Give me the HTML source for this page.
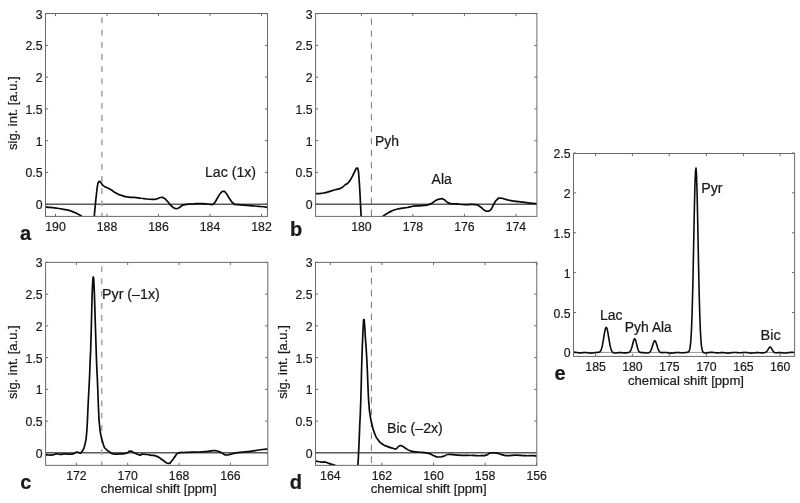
<!DOCTYPE html>
<html><head><meta charset="utf-8"><title>Figure</title>
<style>html,body{margin:0;padding:0;background:#fff}svg{display:block}text{font-family:"Liberation Sans",Arial,Helvetica,sans-serif}</style>
</head><body>
<svg width="800" height="503" viewBox="0 0 800 503">
<rect width="800" height="503" fill="#fff"/>
<clipPath id="ca"><rect x="45.50" y="13.50" width="222.00" height="202.90"/></clipPath>
<path d="M55.50,216.40v-2.60 M55.50,13.50v2.60 M107.00,216.40v-2.60 M107.00,13.50v2.60 M158.50,216.40v-2.60 M158.50,13.50v2.60 M210.00,216.40v-2.60 M210.00,13.50v2.60 M261.50,216.40v-2.60 M261.50,13.50v2.60 M45.50,204.15h2.60 M267.50,204.15h-2.60 M45.50,172.40h2.60 M267.50,172.40h-2.60 M45.50,140.65h2.60 M267.50,140.65h-2.60 M45.50,108.90h2.60 M267.50,108.90h-2.60 M45.50,77.15h2.60 M267.50,77.15h-2.60 M45.50,45.40h2.60 M267.50,45.40h-2.60 M45.50,13.65h2.60 M267.50,13.65h-2.60 " stroke="#3a3a3a" stroke-width="0.75" fill="none"/>
<text x="55.50" y="231.10" font-size="13.6" text-anchor="middle" textLength="20.49" lengthAdjust="spacingAndGlyphs" fill="#1a1a1a" stroke="#1a1a1a" stroke-width="0.22">190</text>
<text x="107.00" y="231.10" font-size="13.6" text-anchor="middle" textLength="20.49" lengthAdjust="spacingAndGlyphs" fill="#1a1a1a" stroke="#1a1a1a" stroke-width="0.22">188</text>
<text x="158.50" y="231.10" font-size="13.6" text-anchor="middle" textLength="20.49" lengthAdjust="spacingAndGlyphs" fill="#1a1a1a" stroke="#1a1a1a" stroke-width="0.22">186</text>
<text x="210.00" y="231.10" font-size="13.6" text-anchor="middle" textLength="20.49" lengthAdjust="spacingAndGlyphs" fill="#1a1a1a" stroke="#1a1a1a" stroke-width="0.22">184</text>
<text x="261.50" y="231.10" font-size="13.6" text-anchor="middle" textLength="20.49" lengthAdjust="spacingAndGlyphs" fill="#1a1a1a" stroke="#1a1a1a" stroke-width="0.22">182</text>
<text x="42.60" y="209.15" font-size="13.6" text-anchor="end" textLength="6.83" lengthAdjust="spacingAndGlyphs" fill="#1a1a1a" stroke="#1a1a1a" stroke-width="0.22">0</text>
<text x="42.60" y="177.40" font-size="13.6" text-anchor="end" textLength="17.08" lengthAdjust="spacingAndGlyphs" fill="#1a1a1a" stroke="#1a1a1a" stroke-width="0.22">0.5</text>
<text x="42.60" y="145.65" font-size="13.6" text-anchor="end" textLength="6.83" lengthAdjust="spacingAndGlyphs" fill="#1a1a1a" stroke="#1a1a1a" stroke-width="0.22">1</text>
<text x="42.60" y="113.90" font-size="13.6" text-anchor="end" textLength="17.08" lengthAdjust="spacingAndGlyphs" fill="#1a1a1a" stroke="#1a1a1a" stroke-width="0.22">1.5</text>
<text x="42.60" y="82.15" font-size="13.6" text-anchor="end" textLength="6.83" lengthAdjust="spacingAndGlyphs" fill="#1a1a1a" stroke="#1a1a1a" stroke-width="0.22">2</text>
<text x="42.60" y="50.40" font-size="13.6" text-anchor="end" textLength="17.08" lengthAdjust="spacingAndGlyphs" fill="#1a1a1a" stroke="#1a1a1a" stroke-width="0.22">2.5</text>
<text x="42.60" y="18.65" font-size="13.6" text-anchor="end" textLength="6.83" lengthAdjust="spacingAndGlyphs" fill="#1a1a1a" stroke="#1a1a1a" stroke-width="0.22">3</text>
<line x1="45.50" y1="204.15" x2="267.50" y2="204.15" stroke="#5a5a5a" stroke-width="1.5"/>
<line x1="101.9" y1="17.5" x2="101.9" y2="216.40" stroke="#a8a8a8" stroke-width="1.6" stroke-dasharray="5.8 6.4"/>
<path d="M45.80,207.00 C46.17,207.03 43.40,206.73 46.90,207.10 C50.40,207.47 50.23,207.27 56.30,208.10 C62.37,208.93 60.10,208.60 65.10,209.60 C70.10,210.60 67.13,209.63 71.30,211.10 C75.47,212.57 74.23,212.33 77.60,214.00 C80.97,215.67 79.27,214.60 81.40,216.10 C83.53,217.60 83.13,217.70 84.00,218.50" fill="none" stroke="#0a0a0a" stroke-width="1.7" stroke-linejoin="round" stroke-linecap="butt" clip-path="url(#ca)"/>
<path d="M94.00,220.00 C94.10,218.70 93.93,220.40 94.30,216.10 C94.67,211.80 94.40,214.27 95.10,207.10 C95.80,199.93 95.57,201.90 96.40,194.60 C97.23,187.30 96.87,189.33 97.60,185.20 C98.33,181.07 97.97,183.47 98.60,182.20 C99.23,180.93 98.90,181.47 99.50,181.40 C100.10,181.33 99.77,181.37 100.40,182.00 C101.03,182.63 100.23,181.93 101.40,183.30 C102.57,184.67 100.97,184.10 103.90,186.10 C106.83,188.10 106.03,186.90 110.20,189.30 C114.37,191.70 112.23,191.13 116.40,193.30 C120.57,195.47 118.50,194.53 122.70,195.80 C126.90,197.07 125.23,196.57 129.00,197.10 C132.77,197.63 130.33,197.07 134.00,197.40 C137.67,197.73 136.73,197.67 140.00,198.10 C143.27,198.53 139.60,198.27 143.80,198.70 C148.00,199.13 148.43,199.30 152.60,199.40 C156.77,199.50 153.60,199.63 156.30,199.00 C159.00,198.37 158.20,197.80 160.70,197.50 C163.20,197.20 161.50,196.77 163.80,198.10 C166.10,199.43 165.07,198.90 167.60,201.50 C170.13,204.10 168.70,203.53 171.40,205.90 C174.10,208.27 173.00,208.10 175.70,208.60 C178.40,209.10 176.77,208.63 179.50,207.40 C182.23,206.17 179.50,206.03 183.90,204.90 C188.30,203.77 186.43,204.43 192.70,204.00 C198.97,203.57 196.87,203.50 202.70,203.60 C208.53,203.70 206.43,204.37 210.20,204.30 C213.97,204.23 211.53,205.60 214.00,203.40 C216.47,201.20 215.33,201.17 217.60,197.70 C219.87,194.23 218.87,195.10 220.80,193.00 C222.73,190.90 221.63,191.30 223.40,191.40 C225.17,191.50 223.87,190.63 226.10,193.30 C228.33,195.97 227.53,195.97 230.10,199.40 C232.67,202.83 231.30,201.87 233.80,203.60 C236.30,205.33 232.17,203.93 237.60,204.60 C243.03,205.27 242.57,204.97 250.10,205.60 C257.63,206.23 254.33,205.90 260.20,206.50 C266.07,207.10 265.20,207.10 267.70,207.40" fill="none" stroke="#0a0a0a" stroke-width="1.7" stroke-linejoin="round" stroke-linecap="butt" clip-path="url(#ca)"/>
<rect x="45.50" y="13.50" width="222.00" height="202.90" fill="none" stroke="#6a6a6a" stroke-width="1"/>
<text x="205.00" y="177.20" font-size="14" textLength="51.00" lengthAdjust="spacingAndGlyphs" fill="#1a1a1a" stroke="#1a1a1a" stroke-width="0.22">Lac (1x)</text>
<text x="17.00" y="113.20" font-size="13.4" text-anchor="middle" textLength="73.60" lengthAdjust="spacingAndGlyphs" transform="rotate(-90 17.00 113.20)" fill="#1a1a1a" stroke="#1a1a1a" stroke-width="0.22">sig. int. [a.u.]</text>
<text x="20.00" y="239.90" font-size="20" font-weight="bold" fill="#1a1a1a" stroke="#1a1a1a" stroke-width="0.22">a</text>
<clipPath id="cb"><rect x="315.60" y="13.50" width="221.30" height="202.90"/></clipPath>
<path d="M361.40,216.40v-2.60 M361.40,13.50v2.60 M412.90,216.40v-2.60 M412.90,13.50v2.60 M464.40,216.40v-2.60 M464.40,13.50v2.60 M515.90,216.40v-2.60 M515.90,13.50v2.60 M315.60,204.15h2.60 M536.90,204.15h-2.60 M315.60,172.40h2.60 M536.90,172.40h-2.60 M315.60,140.65h2.60 M536.90,140.65h-2.60 M315.60,108.90h2.60 M536.90,108.90h-2.60 M315.60,77.15h2.60 M536.90,77.15h-2.60 M315.60,45.40h2.60 M536.90,45.40h-2.60 M315.60,13.65h2.60 M536.90,13.65h-2.60 " stroke="#3a3a3a" stroke-width="0.75" fill="none"/>
<text x="361.40" y="231.10" font-size="13.6" text-anchor="middle" textLength="20.49" lengthAdjust="spacingAndGlyphs" fill="#1a1a1a" stroke="#1a1a1a" stroke-width="0.22">180</text>
<text x="412.90" y="231.10" font-size="13.6" text-anchor="middle" textLength="20.49" lengthAdjust="spacingAndGlyphs" fill="#1a1a1a" stroke="#1a1a1a" stroke-width="0.22">178</text>
<text x="464.40" y="231.10" font-size="13.6" text-anchor="middle" textLength="20.49" lengthAdjust="spacingAndGlyphs" fill="#1a1a1a" stroke="#1a1a1a" stroke-width="0.22">176</text>
<text x="515.90" y="231.10" font-size="13.6" text-anchor="middle" textLength="20.49" lengthAdjust="spacingAndGlyphs" fill="#1a1a1a" stroke="#1a1a1a" stroke-width="0.22">174</text>
<text x="312.70" y="209.15" font-size="13.6" text-anchor="end" textLength="6.83" lengthAdjust="spacingAndGlyphs" fill="#1a1a1a" stroke="#1a1a1a" stroke-width="0.22">0</text>
<text x="312.70" y="177.40" font-size="13.6" text-anchor="end" textLength="17.08" lengthAdjust="spacingAndGlyphs" fill="#1a1a1a" stroke="#1a1a1a" stroke-width="0.22">0.5</text>
<text x="312.70" y="145.65" font-size="13.6" text-anchor="end" textLength="6.83" lengthAdjust="spacingAndGlyphs" fill="#1a1a1a" stroke="#1a1a1a" stroke-width="0.22">1</text>
<text x="312.70" y="113.90" font-size="13.6" text-anchor="end" textLength="17.08" lengthAdjust="spacingAndGlyphs" fill="#1a1a1a" stroke="#1a1a1a" stroke-width="0.22">1.5</text>
<text x="312.70" y="82.15" font-size="13.6" text-anchor="end" textLength="6.83" lengthAdjust="spacingAndGlyphs" fill="#1a1a1a" stroke="#1a1a1a" stroke-width="0.22">2</text>
<text x="312.70" y="50.40" font-size="13.6" text-anchor="end" textLength="17.08" lengthAdjust="spacingAndGlyphs" fill="#1a1a1a" stroke="#1a1a1a" stroke-width="0.22">2.5</text>
<text x="312.70" y="18.65" font-size="13.6" text-anchor="end" textLength="6.83" lengthAdjust="spacingAndGlyphs" fill="#1a1a1a" stroke="#1a1a1a" stroke-width="0.22">3</text>
<line x1="315.60" y1="204.15" x2="536.90" y2="204.15" stroke="#5a5a5a" stroke-width="1.5"/>
<line x1="371.4" y1="18.5" x2="371.4" y2="216.40" stroke="#666" stroke-width="0.9" stroke-dasharray="6.3 5.65"/>
<path d="M315.80,193.80 C316.17,193.77 315.07,193.87 316.90,193.70 C318.73,193.53 317.77,193.83 321.30,193.30 C324.83,192.77 322.90,193.27 327.50,192.10 C332.10,190.93 330.70,191.07 335.10,189.80 C339.50,188.53 337.37,189.97 340.70,188.30 C344.03,186.63 342.40,186.87 345.10,184.80 C347.80,182.73 346.30,185.10 348.80,182.10 C351.30,179.10 350.30,180.00 352.60,175.80 C354.90,171.60 354.23,171.93 355.70,169.50 C357.17,167.07 356.17,168.27 357.00,168.50 C357.83,168.73 357.50,166.50 358.20,170.20 C358.90,173.90 358.53,172.30 359.10,179.60 C359.67,186.90 359.43,183.97 359.90,192.10 C360.37,200.23 360.10,196.00 360.50,204.00 C360.90,212.00 360.83,210.77 361.10,216.10 C361.37,221.43 361.23,218.70 361.30,220.00" fill="none" stroke="#0a0a0a" stroke-width="1.7" stroke-linejoin="round" stroke-linecap="butt" clip-path="url(#cb)"/>
<path d="M380.00,218.50 C381.10,217.70 381.17,217.60 383.30,216.10 C385.43,214.60 383.67,215.67 386.40,214.00 C389.13,212.33 387.73,212.77 391.50,211.10 C395.27,209.43 393.97,210.00 397.70,209.00 C401.43,208.00 399.43,208.60 402.70,208.10 C405.97,207.60 403.80,208.17 407.50,207.50 C411.20,206.83 409.20,206.73 413.80,206.10 C418.40,205.47 416.10,206.17 421.30,205.60 C426.50,205.03 424.80,205.97 429.40,204.40 C434.00,202.83 431.53,202.70 435.10,200.90 C438.67,199.10 437.17,199.43 440.10,199.00 C443.03,198.57 440.97,198.23 443.90,199.60 C446.83,200.97 444.73,201.67 448.90,203.10 C453.07,204.53 450.97,203.40 456.40,203.90 C461.83,204.40 458.93,204.37 465.20,204.60 C471.47,204.83 470.20,203.87 475.20,204.60 C480.20,205.33 477.10,204.90 480.20,206.80 C483.30,208.70 482.03,208.87 484.50,210.30 C486.97,211.73 485.50,211.33 487.60,211.10 C489.70,210.87 488.70,211.97 490.80,209.60 C492.90,207.23 491.83,207.33 493.90,204.00 C495.97,200.67 494.80,201.57 497.00,199.60 C499.20,197.63 497.40,198.10 500.50,198.10 C503.60,198.10 501.83,198.60 506.30,199.60 C510.77,200.60 508.47,200.27 513.90,201.10 C519.33,201.93 517.17,201.43 522.60,202.10 C528.03,202.77 525.43,202.60 530.20,203.10 C534.97,203.60 534.67,203.43 536.90,203.60" fill="none" stroke="#0a0a0a" stroke-width="1.7" stroke-linejoin="round" stroke-linecap="butt" clip-path="url(#cb)"/>
<rect x="315.60" y="13.50" width="221.30" height="202.90" fill="none" stroke="#6a6a6a" stroke-width="1"/>
<text x="374.90" y="145.50" font-size="14" textLength="24.00" lengthAdjust="spacingAndGlyphs" fill="#1a1a1a" stroke="#1a1a1a" stroke-width="0.22">Pyh</text>
<text x="431.60" y="183.70" font-size="14" textLength="20.20" lengthAdjust="spacingAndGlyphs" fill="#1a1a1a" stroke="#1a1a1a" stroke-width="0.22">Ala</text>
<text x="290.00" y="236.30" font-size="20" font-weight="bold" fill="#1a1a1a" stroke="#1a1a1a" stroke-width="0.22">b</text>
<clipPath id="cc"><rect x="45.60" y="262.40" width="222.20" height="202.95"/></clipPath>
<path d="M76.40,465.35v-2.60 M76.40,262.40v2.60 M127.70,465.35v-2.60 M127.70,262.40v2.60 M179.10,465.35v-2.60 M179.10,262.40v2.60 M230.40,465.35v-2.60 M230.40,262.40v2.60 M45.60,452.85h2.60 M267.80,452.85h-2.60 M45.60,421.10h2.60 M267.80,421.10h-2.60 M45.60,389.35h2.60 M267.80,389.35h-2.60 M45.60,357.60h2.60 M267.80,357.60h-2.60 M45.60,325.85h2.60 M267.80,325.85h-2.60 M45.60,294.10h2.60 M267.80,294.10h-2.60 M45.60,262.35h2.60 M267.80,262.35h-2.60 " stroke="#3a3a3a" stroke-width="0.75" fill="none"/>
<text x="76.40" y="479.65" font-size="13.6" text-anchor="middle" textLength="20.49" lengthAdjust="spacingAndGlyphs" fill="#1a1a1a" stroke="#1a1a1a" stroke-width="0.22">172</text>
<text x="127.70" y="479.65" font-size="13.6" text-anchor="middle" textLength="20.49" lengthAdjust="spacingAndGlyphs" fill="#1a1a1a" stroke="#1a1a1a" stroke-width="0.22">170</text>
<text x="179.10" y="479.65" font-size="13.6" text-anchor="middle" textLength="20.49" lengthAdjust="spacingAndGlyphs" fill="#1a1a1a" stroke="#1a1a1a" stroke-width="0.22">168</text>
<text x="230.40" y="479.65" font-size="13.6" text-anchor="middle" textLength="20.49" lengthAdjust="spacingAndGlyphs" fill="#1a1a1a" stroke="#1a1a1a" stroke-width="0.22">166</text>
<text x="42.70" y="457.85" font-size="13.6" text-anchor="end" textLength="6.83" lengthAdjust="spacingAndGlyphs" fill="#1a1a1a" stroke="#1a1a1a" stroke-width="0.22">0</text>
<text x="42.70" y="426.10" font-size="13.6" text-anchor="end" textLength="17.08" lengthAdjust="spacingAndGlyphs" fill="#1a1a1a" stroke="#1a1a1a" stroke-width="0.22">0.5</text>
<text x="42.70" y="394.35" font-size="13.6" text-anchor="end" textLength="6.83" lengthAdjust="spacingAndGlyphs" fill="#1a1a1a" stroke="#1a1a1a" stroke-width="0.22">1</text>
<text x="42.70" y="362.60" font-size="13.6" text-anchor="end" textLength="17.08" lengthAdjust="spacingAndGlyphs" fill="#1a1a1a" stroke="#1a1a1a" stroke-width="0.22">1.5</text>
<text x="42.70" y="330.85" font-size="13.6" text-anchor="end" textLength="6.83" lengthAdjust="spacingAndGlyphs" fill="#1a1a1a" stroke="#1a1a1a" stroke-width="0.22">2</text>
<text x="42.70" y="299.10" font-size="13.6" text-anchor="end" textLength="17.08" lengthAdjust="spacingAndGlyphs" fill="#1a1a1a" stroke="#1a1a1a" stroke-width="0.22">2.5</text>
<text x="42.70" y="267.35" font-size="13.6" text-anchor="end" textLength="6.83" lengthAdjust="spacingAndGlyphs" fill="#1a1a1a" stroke="#1a1a1a" stroke-width="0.22">3</text>
<line x1="45.60" y1="452.85" x2="267.80" y2="452.85" stroke="#5a5a5a" stroke-width="1.5"/>
<line x1="101.7" y1="266.3" x2="101.7" y2="465.35" stroke="#a8a8a8" stroke-width="1.6" stroke-dasharray="5.8 6.4"/>
<path d="M45.80,455.00 C46.17,454.97 44.67,454.93 46.90,454.90 C49.13,454.87 49.37,455.23 52.50,454.90 C55.63,454.57 53.80,454.10 56.30,453.90 C58.80,453.70 57.10,454.30 60.00,454.30 C62.90,454.30 62.00,453.93 65.00,453.90 C68.00,453.87 66.07,454.30 69.00,454.20 C71.93,454.10 71.13,454.33 73.80,453.60 C76.47,452.87 74.90,452.13 77.00,452.00 C79.10,451.87 78.60,453.20 80.10,453.20 C81.60,453.20 80.53,453.07 81.50,452.00 C82.47,450.93 82.07,451.73 83.00,450.00 C83.93,448.27 83.47,449.47 84.30,446.80 C85.13,444.13 84.80,445.70 85.50,442.00 C86.20,438.30 85.83,441.37 86.40,435.70 C86.97,430.03 86.73,432.97 87.20,425.00 C87.67,417.03 87.33,421.80 87.80,411.80 C88.27,401.80 88.07,405.60 88.60,395.00 C89.13,384.40 88.87,391.67 89.40,380.00 C89.93,368.33 89.73,371.67 90.20,360.00 C90.67,348.33 90.37,358.33 90.80,345.00 C91.23,331.67 91.10,335.00 91.50,320.00 C91.90,305.00 91.63,311.67 92.00,300.00 C92.37,288.33 92.17,292.73 92.60,285.00 C93.03,277.27 92.83,276.80 93.30,276.80 C93.77,276.80 93.57,277.27 94.00,285.00 C94.43,292.73 94.20,288.33 94.60,300.00 C95.00,311.67 94.73,305.00 95.20,320.00 C95.67,335.00 95.50,330.00 96.00,345.00 C96.50,360.00 96.23,353.33 96.70,365.00 C97.17,376.67 96.93,369.00 97.40,380.00 C97.87,391.00 97.68,387.40 98.10,398.00 C98.52,408.60 98.18,402.80 98.65,411.80 C99.12,420.80 98.72,417.03 99.50,425.00 C100.28,432.97 100.00,430.20 101.00,435.70 C102.00,441.20 101.43,437.80 102.50,441.50 C103.57,445.20 102.90,444.13 104.20,446.80 C105.50,449.47 104.53,447.77 106.40,449.50 C108.27,451.23 107.50,450.53 109.80,452.00 C112.10,453.47 109.83,453.27 113.30,453.90 C116.77,454.53 115.80,454.13 120.20,453.90 C124.60,453.67 123.17,454.13 126.50,453.20 C129.83,452.27 127.37,451.10 130.20,451.10 C133.03,451.10 131.73,451.87 135.00,453.20 C138.27,454.53 137.50,454.80 140.00,455.10 C142.50,455.40 139.13,454.10 142.50,454.10 C145.87,454.10 145.30,454.33 150.10,455.10 C154.90,455.87 152.73,454.73 156.90,456.40 C161.07,458.07 158.83,457.80 162.60,460.10 C166.37,462.40 165.27,462.87 168.20,463.30 C171.13,463.73 169.10,463.70 171.40,461.40 C173.70,459.10 172.83,459.13 175.10,456.40 C177.37,453.67 174.43,454.53 178.20,453.20 C181.97,451.87 179.50,452.80 186.40,452.40 C193.30,452.00 191.83,452.33 198.90,452.00 C205.97,451.67 202.60,451.83 207.60,451.40 C212.60,450.97 210.13,450.63 213.90,450.70 C217.67,450.77 215.87,450.60 218.90,451.60 C221.93,452.60 220.50,452.57 223.00,453.70 C225.50,454.83 223.63,454.87 226.40,455.00 C229.17,455.13 227.57,454.90 231.30,454.10 C235.03,453.30 232.17,453.40 237.60,452.60 C243.03,451.80 241.77,452.33 247.60,451.70 C253.43,451.07 250.07,451.43 255.10,450.70 C260.13,449.97 258.50,450.00 262.70,449.50 C266.90,449.00 266.03,449.30 267.70,449.20" fill="none" stroke="#0a0a0a" stroke-width="1.7" stroke-linejoin="round" stroke-linecap="butt" clip-path="url(#cc)"/>
<rect x="45.60" y="262.40" width="222.20" height="202.95" fill="none" stroke="#6a6a6a" stroke-width="1"/>
<text x="102.00" y="298.80" font-size="14" textLength="57.80" lengthAdjust="spacingAndGlyphs" fill="#1a1a1a" stroke="#1a1a1a" stroke-width="0.22">Pyr (–1x)</text>
<text x="17.00" y="362.20" font-size="13.4" text-anchor="middle" textLength="73.60" lengthAdjust="spacingAndGlyphs" transform="rotate(-90 17.00 362.20)" fill="#1a1a1a" stroke="#1a1a1a" stroke-width="0.22">sig. int. [a.u.]</text>
<text x="158.65" y="493.40" font-size="13.4" text-anchor="middle" textLength="116.00" lengthAdjust="spacingAndGlyphs" fill="#1a1a1a" stroke="#1a1a1a" stroke-width="0.22">chemical shift [ppm]</text>
<text x="20.30" y="488.90" font-size="20" font-weight="bold" fill="#1a1a1a" stroke="#1a1a1a" stroke-width="0.22">c</text>
<clipPath id="cd"><rect x="315.50" y="262.40" width="221.30" height="202.95"/></clipPath>
<path d="M330.30,465.35v-2.60 M330.30,262.40v2.60 M381.90,465.35v-2.60 M381.90,262.40v2.60 M433.50,465.35v-2.60 M433.50,262.40v2.60 M485.10,465.35v-2.60 M485.10,262.40v2.60 M536.70,465.35v-2.60 M536.70,262.40v2.60 M315.50,452.85h2.60 M536.80,452.85h-2.60 M315.50,421.10h2.60 M536.80,421.10h-2.60 M315.50,389.35h2.60 M536.80,389.35h-2.60 M315.50,357.60h2.60 M536.80,357.60h-2.60 M315.50,325.85h2.60 M536.80,325.85h-2.60 M315.50,294.10h2.60 M536.80,294.10h-2.60 M315.50,262.35h2.60 M536.80,262.35h-2.60 " stroke="#3a3a3a" stroke-width="0.75" fill="none"/>
<text x="330.30" y="479.65" font-size="13.6" text-anchor="middle" textLength="20.49" lengthAdjust="spacingAndGlyphs" fill="#1a1a1a" stroke="#1a1a1a" stroke-width="0.22">164</text>
<text x="381.90" y="479.65" font-size="13.6" text-anchor="middle" textLength="20.49" lengthAdjust="spacingAndGlyphs" fill="#1a1a1a" stroke="#1a1a1a" stroke-width="0.22">162</text>
<text x="433.50" y="479.65" font-size="13.6" text-anchor="middle" textLength="20.49" lengthAdjust="spacingAndGlyphs" fill="#1a1a1a" stroke="#1a1a1a" stroke-width="0.22">160</text>
<text x="485.10" y="479.65" font-size="13.6" text-anchor="middle" textLength="20.49" lengthAdjust="spacingAndGlyphs" fill="#1a1a1a" stroke="#1a1a1a" stroke-width="0.22">158</text>
<text x="536.70" y="479.65" font-size="13.6" text-anchor="middle" textLength="20.49" lengthAdjust="spacingAndGlyphs" fill="#1a1a1a" stroke="#1a1a1a" stroke-width="0.22">156</text>
<text x="312.60" y="457.85" font-size="13.6" text-anchor="end" textLength="6.83" lengthAdjust="spacingAndGlyphs" fill="#1a1a1a" stroke="#1a1a1a" stroke-width="0.22">0</text>
<text x="312.60" y="426.10" font-size="13.6" text-anchor="end" textLength="17.08" lengthAdjust="spacingAndGlyphs" fill="#1a1a1a" stroke="#1a1a1a" stroke-width="0.22">0.5</text>
<text x="312.60" y="394.35" font-size="13.6" text-anchor="end" textLength="6.83" lengthAdjust="spacingAndGlyphs" fill="#1a1a1a" stroke="#1a1a1a" stroke-width="0.22">1</text>
<text x="312.60" y="362.60" font-size="13.6" text-anchor="end" textLength="17.08" lengthAdjust="spacingAndGlyphs" fill="#1a1a1a" stroke="#1a1a1a" stroke-width="0.22">1.5</text>
<text x="312.60" y="330.85" font-size="13.6" text-anchor="end" textLength="6.83" lengthAdjust="spacingAndGlyphs" fill="#1a1a1a" stroke="#1a1a1a" stroke-width="0.22">2</text>
<text x="312.60" y="299.10" font-size="13.6" text-anchor="end" textLength="17.08" lengthAdjust="spacingAndGlyphs" fill="#1a1a1a" stroke="#1a1a1a" stroke-width="0.22">2.5</text>
<text x="312.60" y="267.35" font-size="13.6" text-anchor="end" textLength="6.83" lengthAdjust="spacingAndGlyphs" fill="#1a1a1a" stroke="#1a1a1a" stroke-width="0.22">3</text>
<line x1="315.50" y1="452.85" x2="536.80" y2="452.85" stroke="#5a5a5a" stroke-width="1.5"/>
<line x1="371.4" y1="266.0" x2="371.4" y2="465.35" stroke="#666" stroke-width="0.9" stroke-dasharray="6.5 5.4"/>
<path d="M315.80,461.00 C316.03,461.07 314.57,460.83 316.50,461.20 C318.43,461.57 318.70,461.80 321.60,462.10 C324.50,462.40 322.30,461.50 325.20,462.10 C328.10,462.70 327.13,462.83 330.30,463.90 C333.47,464.97 332.47,464.43 334.70,465.30 C336.93,466.17 336.23,466.10 337.00,466.50" fill="none" stroke="#0a0a0a" stroke-width="1.7" stroke-linejoin="round" stroke-linecap="butt" clip-path="url(#cd)"/>
<path d="M357.70,470.00 C357.77,468.43 357.60,471.13 357.90,465.30 C358.20,459.47 358.03,464.60 358.60,452.50 C359.17,440.40 358.87,446.50 359.60,429.00 C360.33,411.50 360.10,421.13 360.80,400.00 C361.50,378.87 361.10,385.60 361.70,365.60 C362.30,345.60 362.07,353.53 362.60,340.00 C363.13,326.47 362.87,331.77 363.30,325.00 C363.73,318.23 363.47,319.70 363.90,319.70 C364.33,319.70 364.10,318.90 364.60,325.00 C365.10,331.10 364.80,329.00 365.40,338.00 C366.00,347.00 365.73,340.67 366.40,352.00 C367.07,363.33 366.80,358.67 367.40,372.00 C368.00,385.33 367.67,381.00 368.20,392.00 C368.73,403.00 368.47,398.00 369.00,405.00 C369.53,412.00 368.90,406.93 369.80,413.00 C370.70,419.07 370.10,416.40 371.70,423.20 C373.30,430.00 372.43,427.83 374.60,433.40 C376.77,438.97 375.53,436.27 378.20,439.90 C380.87,443.53 379.20,441.97 382.60,444.30 C386.00,446.63 384.93,445.60 388.40,446.90 C391.87,448.20 390.57,447.50 393.00,448.20 C395.43,448.90 393.90,449.53 395.70,449.00 C397.50,448.47 396.73,447.70 398.40,446.60 C400.07,445.50 399.17,445.70 400.70,445.70 C402.23,445.70 401.40,445.77 403.00,446.60 C404.60,447.43 403.13,446.83 405.50,448.20 C407.87,449.57 406.07,449.43 410.10,450.70 C414.13,451.97 411.77,451.17 417.60,452.00 C423.43,452.83 422.17,451.97 427.60,453.20 C433.03,454.43 430.33,454.43 433.90,455.70 C437.47,456.97 434.97,456.87 438.30,457.00 C441.63,457.13 440.57,456.93 443.90,456.10 C447.23,455.27 443.70,454.83 448.30,454.50 C452.90,454.17 451.23,454.80 457.70,455.10 C464.17,455.40 462.77,455.30 467.70,455.40 C472.63,455.50 467.97,455.30 472.50,455.40 C477.03,455.50 476.50,455.87 481.30,455.70 C486.10,455.53 483.97,455.73 486.90,454.90 C489.83,454.07 486.97,453.77 490.10,453.20 C493.23,452.63 492.13,452.63 496.30,453.20 C500.47,453.77 498.83,454.07 502.60,454.90 C506.37,455.73 503.00,455.63 507.60,455.70 C512.20,455.77 510.53,455.10 516.40,455.10 C522.27,455.10 519.37,455.50 525.20,455.70 C531.03,455.90 530.03,455.40 533.90,455.70 C537.77,456.00 535.83,456.30 536.80,456.60" fill="none" stroke="#0a0a0a" stroke-width="1.7" stroke-linejoin="round" stroke-linecap="butt" clip-path="url(#cd)"/>
<rect x="315.50" y="262.40" width="221.30" height="202.95" fill="none" stroke="#6a6a6a" stroke-width="1"/>
<text x="387.00" y="432.50" font-size="14" textLength="55.80" lengthAdjust="spacingAndGlyphs" fill="#1a1a1a" stroke="#1a1a1a" stroke-width="0.22">Bic (–2x)</text>
<text x="287.00" y="362.00" font-size="13.4" text-anchor="middle" textLength="73.60" lengthAdjust="spacingAndGlyphs" transform="rotate(-90 287.00 362.00)" fill="#1a1a1a" stroke="#1a1a1a" stroke-width="0.22">sig. int. [a.u.]</text>
<text x="428.65" y="493.40" font-size="13.4" text-anchor="middle" textLength="116.00" lengthAdjust="spacingAndGlyphs" fill="#1a1a1a" stroke="#1a1a1a" stroke-width="0.22">chemical shift [ppm]</text>
<text x="289.70" y="488.90" font-size="20" font-weight="bold" fill="#1a1a1a" stroke="#1a1a1a" stroke-width="0.22">d</text>
<clipPath id="ce"><rect x="573.50" y="153.50" width="221.10" height="202.90"/></clipPath>
<path d="M595.60,356.40v-2.60 M595.60,153.50v2.60 M632.40,356.40v-2.60 M632.40,153.50v2.60 M669.30,356.40v-2.60 M669.30,153.50v2.60 M706.40,356.40v-2.60 M706.40,153.50v2.60 M743.40,356.40v-2.60 M743.40,153.50v2.60 M780.20,356.40v-2.60 M780.20,153.50v2.60 M573.50,352.40h2.60 M794.60,352.40h-2.60 M573.50,312.52h2.60 M794.60,312.52h-2.60 M573.50,272.65h2.60 M794.60,272.65h-2.60 M573.50,232.77h2.60 M794.60,232.77h-2.60 M573.50,192.90h2.60 M794.60,192.90h-2.60 M573.50,153.02h2.60 M794.60,153.02h-2.60 " stroke="#3a3a3a" stroke-width="0.75" fill="none"/>
<text x="595.60" y="370.80" font-size="13.6" text-anchor="middle" textLength="20.49" lengthAdjust="spacingAndGlyphs" fill="#1a1a1a" stroke="#1a1a1a" stroke-width="0.22">185</text>
<text x="632.40" y="370.80" font-size="13.6" text-anchor="middle" textLength="20.49" lengthAdjust="spacingAndGlyphs" fill="#1a1a1a" stroke="#1a1a1a" stroke-width="0.22">180</text>
<text x="669.30" y="370.80" font-size="13.6" text-anchor="middle" textLength="20.49" lengthAdjust="spacingAndGlyphs" fill="#1a1a1a" stroke="#1a1a1a" stroke-width="0.22">175</text>
<text x="706.40" y="370.80" font-size="13.6" text-anchor="middle" textLength="20.49" lengthAdjust="spacingAndGlyphs" fill="#1a1a1a" stroke="#1a1a1a" stroke-width="0.22">170</text>
<text x="743.40" y="370.80" font-size="13.6" text-anchor="middle" textLength="20.49" lengthAdjust="spacingAndGlyphs" fill="#1a1a1a" stroke="#1a1a1a" stroke-width="0.22">165</text>
<text x="780.20" y="370.80" font-size="13.6" text-anchor="middle" textLength="20.49" lengthAdjust="spacingAndGlyphs" fill="#1a1a1a" stroke="#1a1a1a" stroke-width="0.22">160</text>
<text x="570.60" y="357.40" font-size="13.6" text-anchor="end" textLength="6.83" lengthAdjust="spacingAndGlyphs" fill="#1a1a1a" stroke="#1a1a1a" stroke-width="0.22">0</text>
<text x="570.60" y="317.52" font-size="13.6" text-anchor="end" textLength="17.08" lengthAdjust="spacingAndGlyphs" fill="#1a1a1a" stroke="#1a1a1a" stroke-width="0.22">0.5</text>
<text x="570.60" y="277.65" font-size="13.6" text-anchor="end" textLength="6.83" lengthAdjust="spacingAndGlyphs" fill="#1a1a1a" stroke="#1a1a1a" stroke-width="0.22">1</text>
<text x="570.60" y="237.77" font-size="13.6" text-anchor="end" textLength="17.08" lengthAdjust="spacingAndGlyphs" fill="#1a1a1a" stroke="#1a1a1a" stroke-width="0.22">1.5</text>
<text x="570.60" y="197.90" font-size="13.6" text-anchor="end" textLength="6.83" lengthAdjust="spacingAndGlyphs" fill="#1a1a1a" stroke="#1a1a1a" stroke-width="0.22">2</text>
<text x="570.60" y="158.02" font-size="13.6" text-anchor="end" textLength="17.08" lengthAdjust="spacingAndGlyphs" fill="#1a1a1a" stroke="#1a1a1a" stroke-width="0.22">2.5</text>
<line x1="573.50" y1="352.40" x2="794.60" y2="352.40" stroke="#777" stroke-width="0.8"/>
<path d="M573.50,352.36 L574.00,352.34 L574.50,352.34 L575.00,352.36 L575.50,352.39 L576.00,352.44 L576.50,352.51 L577.00,352.57 L577.50,352.64 L578.00,352.71 L578.50,352.77 L579.00,352.81 L579.50,352.84 L580.00,352.85 L580.50,352.85 L581.00,352.83 L581.50,352.80 L582.00,352.76 L582.50,352.72 L583.00,352.67 L583.50,352.63 L584.00,352.59 L584.50,352.57 L585.00,352.56 L585.50,352.57 L586.00,352.59 L586.50,352.63 L587.00,352.69 L587.50,352.75 L588.00,352.82 L588.50,352.89 L589.00,352.96 L589.50,353.02 L590.00,353.07 L590.50,353.10 L591.00,353.11 L591.50,353.10 L592.00,353.07 L592.50,353.03 L593.00,352.97 L593.50,352.90 L594.00,352.82 L594.50,352.74 L595.00,352.66 L595.50,352.59 L596.00,352.53 L596.50,352.48 L597.00,352.45 L597.50,352.42 L598.00,352.38 L598.50,352.32 L599.00,352.21 L599.50,351.99 L600.00,351.62 L600.50,351.01 L601.00,350.09 L601.50,348.78 L602.00,347.01 L602.50,344.77 L603.00,342.09 L603.50,339.08 L604.00,335.95 L604.50,332.94 L605.00,330.35 L605.50,328.46 L606.00,327.48 L606.50,327.53 L607.00,328.61 L607.50,330.59 L608.00,333.22 L608.50,336.25 L609.00,339.37 L609.50,342.36 L610.00,345.02 L610.50,347.25 L611.00,349.03 L611.50,350.38 L612.00,351.36 L612.50,352.03 L613.00,352.48 L613.50,352.76 L614.00,352.92 L614.50,353.00 L615.00,353.03 L615.50,353.01 L616.00,352.98 L616.50,352.92 L617.00,352.86 L617.50,352.80 L618.00,352.74 L618.50,352.69 L619.00,352.64 L619.50,352.62 L620.00,352.61 L620.50,352.61 L621.00,352.63 L621.50,352.67 L622.00,352.71 L622.50,352.76 L623.00,352.81 L623.50,352.85 L624.00,352.88 L624.50,352.91 L625.00,352.91 L625.50,352.90 L626.00,352.88 L626.50,352.83 L627.00,352.77 L627.50,352.69 L628.00,352.58 L628.50,352.44 L629.00,352.24 L629.50,351.95 L630.00,351.49 L630.50,350.80 L631.00,349.80 L631.50,348.45 L632.00,346.74 L632.50,344.77 L633.00,342.73 L633.50,340.86 L634.00,339.47 L634.50,338.79 L635.00,338.95 L635.50,339.93 L636.00,341.57 L636.50,343.60 L637.00,345.73 L637.50,347.70 L638.00,349.35 L638.50,350.61 L639.00,351.48 L639.50,352.03 L640.00,352.35 L640.50,352.51 L641.00,352.58 L641.50,352.60 L642.00,352.61 L642.50,352.62 L643.00,352.63 L643.50,352.66 L644.00,352.71 L644.50,352.76 L645.00,352.82 L645.50,352.88 L646.00,352.94 L646.50,352.98 L647.00,353.01 L647.50,353.01 L648.00,352.97 L648.50,352.86 L649.00,352.66 L649.50,352.34 L650.00,351.84 L650.50,351.12 L651.00,350.15 L651.50,348.91 L652.00,347.44 L652.50,345.82 L653.00,344.18 L653.50,342.70 L654.00,341.56 L654.50,340.92 L655.00,340.88 L655.50,341.43 L656.00,342.50 L656.50,343.94 L657.00,345.57 L657.50,347.20 L658.00,348.68 L658.50,349.94 L659.00,350.91 L659.50,351.62 L660.00,352.10 L660.50,352.40 L661.00,352.56 L661.50,352.63 L662.00,352.64 L662.50,352.62 L663.00,352.59 L663.50,352.55 L664.00,352.52 L664.50,352.49 L665.00,352.49 L665.50,352.50 L666.00,352.53 L666.50,352.57 L667.00,352.63 L667.50,352.71 L668.00,352.78 L668.50,352.86 L669.00,352.94 L669.50,353.00 L670.00,353.06 L670.50,353.10 L671.00,353.11 L671.50,353.11 L672.00,353.09 L672.50,353.05 L673.00,353.00 L673.50,352.93 L674.00,352.86 L674.50,352.79 L675.00,352.71 L675.50,352.65 L676.00,352.60 L676.50,352.56 L677.00,352.54 L677.50,352.53 L678.00,352.55 L678.50,352.57 L679.00,352.61 L679.50,352.66 L680.00,352.70 L680.50,352.75 L681.00,352.79 L681.50,352.82 L682.00,352.83 L682.50,352.83 L683.00,352.82 L683.50,352.78 L684.00,352.74 L684.50,352.68 L685.00,352.62 L685.50,352.55 L686.00,352.48 L686.50,352.42 L687.00,352.35 L687.50,352.26 L688.00,352.11 L688.50,351.81 L689.00,351.21 L689.50,350.05 L690.00,347.91 L690.50,344.21 L691.00,338.20 L691.50,329.05 L692.00,316.02 L692.50,298.67 L693.00,277.20 L693.50,252.62 L694.00,226.91 L694.50,202.77 L695.00,183.25 L695.50,171.09 L696.00,168.13 L696.50,174.82 L697.00,190.13 L697.50,211.80 L698.00,236.89 L698.50,262.43 L699.00,285.97 L699.50,305.91 L700.00,321.59 L700.50,333.09 L701.00,340.99 L701.50,346.10 L702.00,349.21 L702.50,351.01 L703.00,352.00 L703.50,352.52 L704.00,352.78 L704.50,352.91 L705.00,352.96 L705.50,352.96 L706.00,352.94 L706.50,352.90 L707.00,352.84 L707.50,352.76 L708.00,352.68 L708.50,352.60 L709.00,352.52 L709.50,352.45 L710.00,352.40 L710.50,352.36 L711.00,352.33 L711.50,352.33 L712.00,352.35 L712.50,352.38 L713.00,352.43 L713.50,352.50 L714.00,352.57 L714.50,352.64 L715.00,352.71 L715.50,352.77 L716.00,352.82 L716.50,352.85 L717.00,352.87 L717.50,352.87 L718.00,352.86 L718.50,352.83 L719.00,352.79 L719.50,352.74 L720.00,352.70 L720.50,352.65 L721.00,352.61 L721.50,352.59 L722.00,352.58 L722.50,352.58 L723.00,352.60 L723.50,352.64 L724.00,352.69 L724.50,352.75 L725.00,352.82 L725.50,352.89 L726.00,352.95 L726.50,353.01 L727.00,353.06 L727.50,353.09 L728.00,353.10 L728.50,353.10 L729.00,353.07 L729.50,353.03 L730.00,352.97 L730.50,352.89 L731.00,352.82 L731.50,352.73 L732.00,352.65 L732.50,352.58 L733.00,352.52 L733.50,352.48 L734.00,352.45 L734.50,352.44 L735.00,352.45 L735.50,352.48 L736.00,352.52 L736.50,352.57 L737.00,352.62 L737.50,352.67 L738.00,352.72 L738.50,352.76 L739.00,352.79 L739.50,352.80 L740.00,352.80 L740.50,352.78 L741.00,352.74 L741.50,352.70 L742.00,352.65 L742.50,352.59 L743.00,352.54 L743.50,352.49 L744.00,352.45 L744.50,352.43 L745.00,352.42 L745.50,352.43 L746.00,352.46 L746.50,352.51 L747.00,352.57 L747.50,352.64 L748.00,352.72 L748.50,352.81 L749.00,352.89 L749.50,352.96 L750.00,353.02 L750.50,353.06 L751.00,353.09 L751.50,353.09 L752.00,353.08 L752.50,353.05 L753.00,353.00 L753.50,352.94 L754.00,352.88 L754.50,352.81 L755.00,352.74 L755.50,352.69 L756.00,352.64 L756.50,352.61 L757.00,352.60 L757.50,352.60 L758.00,352.62 L758.50,352.65 L759.00,352.69 L759.50,352.73 L760.00,352.78 L760.50,352.82 L761.00,352.86 L761.50,352.89 L762.00,352.90 L762.50,352.89 L763.00,352.86 L763.50,352.82 L764.00,352.75 L764.50,352.65 L765.00,352.51 L765.50,352.31 L766.00,352.02 L766.50,351.61 L767.00,351.06 L767.50,350.37 L768.00,349.55 L768.50,348.69 L769.00,347.91 L769.50,347.32 L770.00,347.06 L770.50,347.16 L771.00,347.63 L771.50,348.38 L772.00,349.29 L772.50,350.22 L773.00,351.05 L773.50,351.72 L774.00,352.22 L774.50,352.54 L775.00,352.73 L775.50,352.81 L776.00,352.84 L776.50,352.82 L777.00,352.78 L777.50,352.74 L778.00,352.70 L778.50,352.66 L779.00,352.64 L779.50,352.63 L780.00,352.64 L780.50,352.66 L781.00,352.70 L781.50,352.75 L782.00,352.80 L782.50,352.86 L783.00,352.92 L783.50,352.97 L784.00,353.02 L784.50,353.04 L785.00,353.05 L785.50,353.04 L786.00,353.01 L786.50,352.97 L787.00,352.90 L787.50,352.83 L788.00,352.75 L788.50,352.66 L789.00,352.58 L789.50,352.51 L790.00,352.45 L790.50,352.40 L791.00,352.38 L791.50,352.37 L792.00,352.38 L792.50,352.41 L793.00,352.45 L793.50,352.50 L794.00,352.57 L794.50,352.63" fill="none" stroke="#0a0a0a" stroke-width="1.6" stroke-linejoin="round" clip-path="url(#ce)"/>
<rect x="573.50" y="153.50" width="221.10" height="202.90" fill="none" stroke="#6a6a6a" stroke-width="1"/>
<text x="600.00" y="319.50" font-size="14" textLength="22.60" lengthAdjust="spacingAndGlyphs" fill="#1a1a1a" stroke="#1a1a1a" stroke-width="0.22">Lac</text>
<text x="624.80" y="332.20" font-size="14" textLength="24.00" lengthAdjust="spacingAndGlyphs" fill="#1a1a1a" stroke="#1a1a1a" stroke-width="0.22">Pyh</text>
<text x="651.90" y="332.20" font-size="14" textLength="19.60" lengthAdjust="spacingAndGlyphs" fill="#1a1a1a" stroke="#1a1a1a" stroke-width="0.22">Ala</text>
<text x="701.20" y="193.30" font-size="14" textLength="21.40" lengthAdjust="spacingAndGlyphs" fill="#1a1a1a" stroke="#1a1a1a" stroke-width="0.22">Pyr</text>
<text x="760.60" y="340.00" font-size="14" textLength="20.20" lengthAdjust="spacingAndGlyphs" fill="#1a1a1a" stroke="#1a1a1a" stroke-width="0.22">Bic</text>
<text x="686.00" y="384.50" font-size="13.4" text-anchor="middle" textLength="116.00" lengthAdjust="spacingAndGlyphs" fill="#1a1a1a" stroke="#1a1a1a" stroke-width="0.22">chemical shift [ppm]</text>
<text x="554.60" y="379.50" font-size="20" font-weight="bold" fill="#1a1a1a" stroke="#1a1a1a" stroke-width="0.22">e</text>
</svg>
</body></html>
